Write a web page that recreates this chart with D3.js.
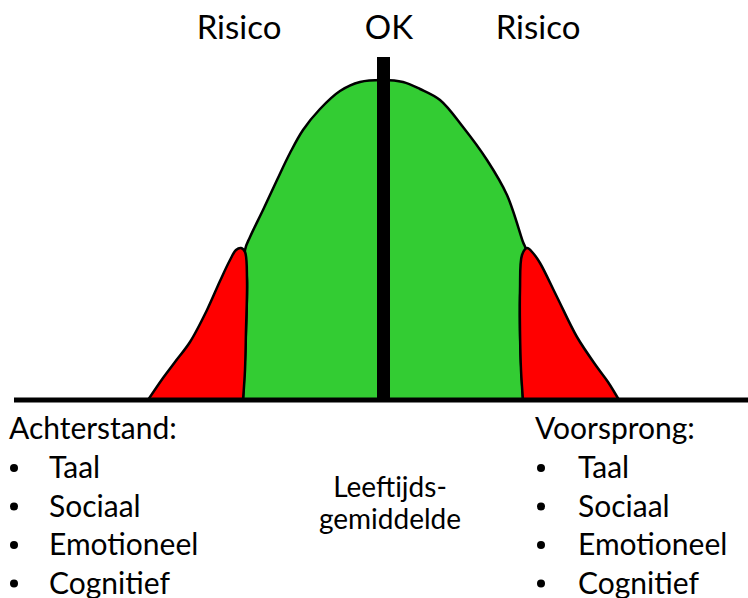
<!DOCTYPE html>
<html>
<head>
<meta charset="utf-8">
<script src="https://cdn.jsdelivr.net/npm/d3@7"></script>
<style>
  html, body { margin: 0; padding: 0; background: #fff; }
  svg { display: block; }
  text { font-family: Lato, "Open Sans", sans-serif; fill: #000; }
</style>
</head>
<body>
<div id="chart"></div>
<script>
// Values: x = horizontal position, h = height above the baseline
const bellCurve = [
  [243, 0], [246, 70], [247, 120], [245, 150], [250, 163], [263, 190], [277, 220],
  [290, 247], [303, 270], [320, 291], [340, 309], [360, 318], [383, 320],
  [403, 318], [420, 311], [440, 300], [463, 273], [487, 240], [507, 205],
  [523, 158], [526, 150], [521, 120], [520, 70], [523, 0]
];
const leftTail = [
  [148, 0], [163, 22], [175, 38], [190, 58], [207, 90], [220, 119], [230, 140],
  [236, 150], [241, 152], [245, 148], [247, 120], [246, 70], [245, 30], [243, 0]
];
const rightTail = [
  [523, 0], [521, 30], [520, 70], [520, 110], [522, 145], [527, 152], [533, 147],
  [540, 137], [557, 103], [577, 63], [597, 33], [608, 18], [619, 0]
];
const centerLine = { x: 383.5, top: 343 };
const topLabels = [
  { text: 'Risico', x: 239 },
  { text: 'OK', x: 389 },
  { text: 'Risico', x: 538 }
];
const leftTitle = 'Achterstand:';
const rightTitle = 'Voorsprong:';
const domains = ['Taal', 'Sociaal', 'Emotioneel', 'Cognitief'];
const middleLabel = ['Leeftijds-', 'gemiddelde'];

const width = 748, height = 598;
const baseY = 400;

const svg = d3.select('#chart').append('svg')
  .attr('width', width)
  .attr('height', height);

const x = d3.scaleLinear().domain([0, width]).range([0, width]);
const y = d3.scaleLinear().domain([0, 320]).range([baseY, 80]);

const line = d3.line()
  .x(d => x(d[0]))
  .y(d => y(d[1]))
  .curve(d3.curveCatmullRom.alpha(0.5));

// green bell
svg.append('path')
  .attr('d', line(bellCurve) + 'Z')
  .attr('fill', '#33cc33')
  .attr('stroke', '#000')
  .attr('stroke-width', 2.5)
  .attr('stroke-linejoin', 'round');

// red tails
[leftTail, rightTail].forEach(t => {
  svg.append('path')
    .attr('d', line(t) + 'Z')
    .attr('fill', '#ff0000')
    .attr('stroke', '#000')
    .attr('stroke-width', 2.5)
    .attr('stroke-linejoin', 'round');
});

// baseline
svg.append('line')
  .attr('x1', 14).attr('x2', width)
  .attr('y1', y(0)).attr('y2', y(0))
  .attr('stroke', '#000')
  .attr('stroke-width', 5);

// centre line (age average)
svg.append('line')
  .attr('x1', x(centerLine.x)).attr('x2', x(centerLine.x))
  .attr('y1', y(0)).attr('y2', y(centerLine.top))
  .attr('stroke', '#000')
  .attr('stroke-width', 13);

// top labels
svg.selectAll('text.top')
  .data(topLabels)
  .join('text')
  .attr('class', 'top')
  .attr('x', d => d.x)
  .attr('y', 39)
  .attr('text-anchor', 'middle')
  .style('font-size', '33px')
  .text(d => d.text);

// bottom lists
function list(x0, bulletX, textX, title) {
  svg.append('text')
    .attr('x', x0)
    .attr('y', 439)
    .style('font-size', '30px')
    .text(title);
  domains.forEach((d, i) => {
    const yy = 478 + i * 38.5;
    svg.append('circle')
      .attr('cx', bulletX)
      .attr('cy', yy - 10)
      .attr('r', 4)
      .attr('fill', '#000');
    svg.append('text')
      .attr('x', textX)
      .attr('y', yy)
      .style('font-size', '30px')
      .text(d);
  });
}
list(9, 14, 49, leftTitle);
list(535, 541, 578, rightTitle);

// middle label
svg.selectAll('text.mid')
  .data(middleLabel)
  .join('text')
  .attr('class', 'mid')
  .attr('x', 390)
  .attr('y', (d, i) => 497 + i * 32)
  .attr('text-anchor', 'middle')
  .style('font-size', '28px')
  .text(d => d);
</script>
</body>
</html>
